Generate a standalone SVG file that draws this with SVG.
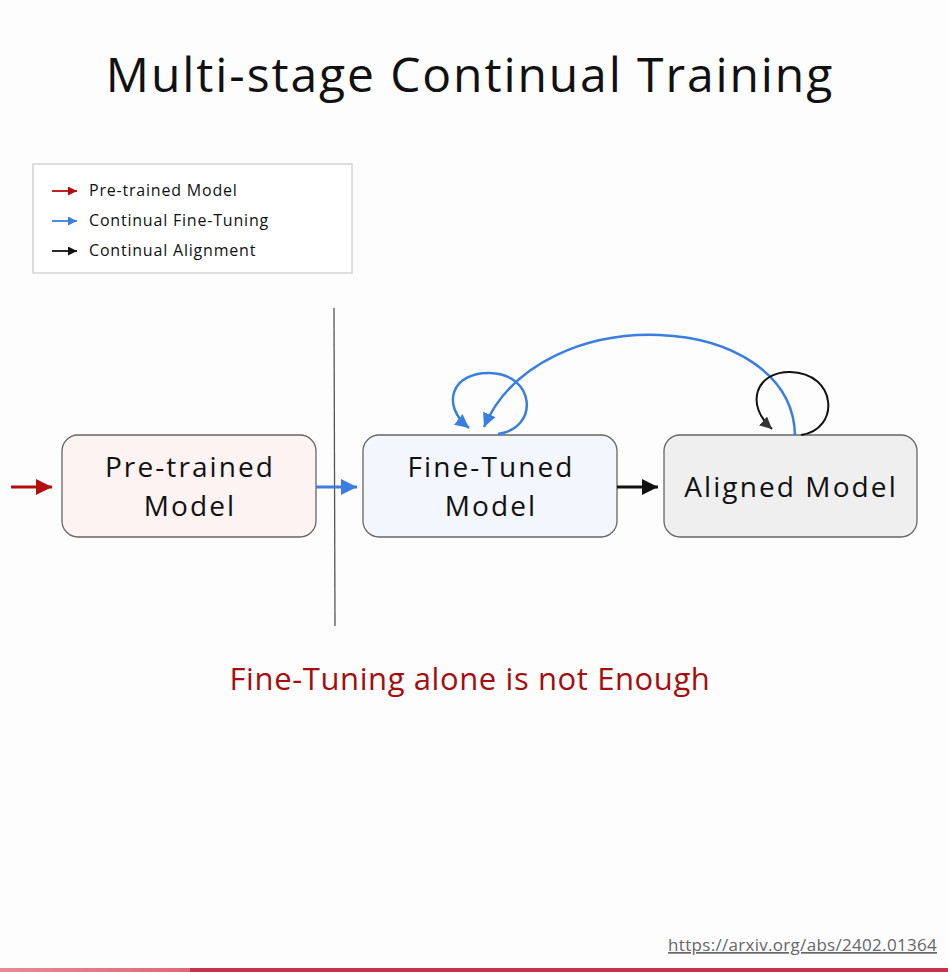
<svg xmlns="http://www.w3.org/2000/svg" width="948" height="972" viewBox="0 0 948 972">
<defs>
<style>
text{font-family:"Open Sans","Liberation Sans",sans-serif;fill:#111}
.box{stroke:#666;stroke-width:1.3}
.lbl{font-size:28px;text-anchor:middle;letter-spacing:2.1px}
.leg{font-size:16px;letter-spacing:0.8px}
</style>
<marker id="hr" viewBox="0 0 10 10" refX="10" refY="5" markerWidth="5.5" markerHeight="5.5" orient="auto" markerUnits="strokeWidth"><path d="M0,0L10,5L0,10z" fill="#b30d0d"/></marker>
<marker id="hb" viewBox="0 0 10 10" refX="10" refY="5" markerWidth="5.5" markerHeight="5.5" orient="auto" markerUnits="strokeWidth"><path d="M0,0L10,5L0,10z" fill="#3a7ee0"/></marker>
<marker id="hk" viewBox="0 0 10 10" refX="10" refY="5" markerWidth="5.5" markerHeight="5.5" orient="auto" markerUnits="strokeWidth"><path d="M0,0L10,5L0,10z" fill="#111"/></marker>
<marker id="lr" viewBox="0 0 10 10" refX="10" refY="5" markerWidth="5" markerHeight="5" orient="auto" markerUnits="strokeWidth"><path d="M0,0L10,5L0,10z" fill="#b30d0d"/></marker>
<marker id="lb" viewBox="0 0 10 10" refX="10" refY="5" markerWidth="5" markerHeight="5" orient="auto" markerUnits="strokeWidth"><path d="M0,0L10,5L0,10z" fill="#3a7ee0"/></marker>
<marker id="lk" viewBox="0 0 10 10" refX="10" refY="5" markerWidth="5" markerHeight="5" orient="auto" markerUnits="strokeWidth"><path d="M0,0L10,5L0,10z" fill="#111"/></marker>
<marker id="cb" viewBox="0 0 10 10" refX="10" refY="5" markerWidth="5.5" markerHeight="5.5" orient="auto" markerUnits="strokeWidth"><path d="M0,0L10,5L0,10z" fill="#3a7ee0"/></marker>
<marker id="ck" viewBox="0 0 10 10" refX="10" refY="5" markerWidth="6" markerHeight="6" orient="auto" markerUnits="strokeWidth"><path d="M0,0L10,5L0,10z" fill="#333"/></marker>
<linearGradient id="bar" x1="0" x2="1" y1="0" y2="0">
<stop offset="0" stop-color="#e88a95"/>
<stop offset="0.2" stop-color="#e06878"/>
<stop offset="0.2" stop-color="#c9304a"/>
<stop offset="1" stop-color="#c9304a"/>
</linearGradient>
</defs>
<rect width="948" height="972" fill="#fdfdfd"/>
<rect y="968" width="948" height="4" fill="url(#bar)"/>
<text x="470" y="92" font-size="48" letter-spacing="1.9" text-anchor="middle">Multi-stage Continual Training</text>

<g id="legend">
<rect x="33" y="164" width="319" height="109" fill="#fff" stroke="#ccc" stroke-width="1.3"/>
<line x1="52" y1="191" x2="77" y2="191" stroke="#b30d0d" stroke-width="1.8" marker-end="url(#lr)"/>
<line x1="52" y1="221" x2="77" y2="221" stroke="#3a7ee0" stroke-width="1.8" marker-end="url(#lb)"/>
<line x1="52" y1="251" x2="77" y2="251" stroke="#111" stroke-width="1.8" marker-end="url(#lk)"/>
<text class="leg" x="89" y="196">Pre-trained Model</text>
<text class="leg" x="89" y="226">Continual Fine-Tuning</text>
<text class="leg" x="89" y="256">Continual Alignment</text>
</g>

<line x1="334" y1="308" x2="335" y2="626" stroke="#555" stroke-width="1.3"/>

<g id="pretrained">
<rect class="box" x="62" y="435" width="254" height="102" rx="16" fill="#fcf3f2"/>
<text class="lbl" x="190" y="477">Pre-trained</text>
<text class="lbl" x="190" y="516">Model</text>
</g>
<g id="finetuned">
<rect class="box" x="363" y="435" width="254" height="102" rx="16" fill="#f3f6fd"/>
<text class="lbl" x="491" y="477">Fine-Tuned</text>
<text class="lbl" x="491" y="516">Model</text>
</g>
<g id="aligned">
<rect class="box" x="664" y="435" width="253" height="102" rx="16" fill="#efefef"/>
<text class="lbl" x="791" y="497">Aligned Model</text>
</g>

<g id="connectors" fill="none">
<line x1="11" y1="487" x2="52" y2="487" stroke="#b30d0d" stroke-width="3" marker-end="url(#hr)"/>
<line x1="316" y1="487" x2="357" y2="487" stroke="#3a7ee0" stroke-width="3" marker-end="url(#hb)"/>
<line x1="617" y1="487" x2="658" y2="487" stroke="#111" stroke-width="3" marker-end="url(#hk)"/>
<path d="M498,434 C540,428 535,374 490,373 C452,372 440,405 469,428" stroke="#3a7ee0" stroke-width="2.5" marker-end="url(#cb)"/>
<path d="M795,435 C792,310 540,296 484,427" stroke="#3a7ee0" stroke-width="2.5" marker-end="url(#cb)"/>
<path d="M801,435 C840,430 838,373 790,372 C755,372 745,405 772,429" stroke="#111" stroke-width="2" marker-end="url(#ck)"/>
</g>

<text x="470" y="690" font-size="31" letter-spacing="0.6" text-anchor="middle" style="fill:#a50e0e">Fine-Tuning alone is not Enough</text>
<text x="937" y="951" font-size="17" letter-spacing="0.3" text-anchor="end" text-decoration="underline" style="fill:#666">https://arxiv.org/abs/2402.01364</text>
</svg>
